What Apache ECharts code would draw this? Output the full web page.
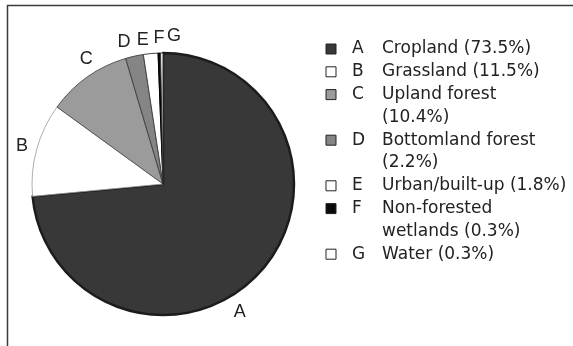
<!DOCTYPE html>
<html><head><meta charset="utf-8">
<script src="https://cdn.jsdelivr.net/npm/echarts@6/dist/echarts.min.js"></script>
<style>html,body{margin:0;padding:0;background:#fff}#c{width:573px;height:346px}</style>
</head><body><div id="c"></div>
<script>
var letters = ['A','B','C','D','E','F','G'];
var names = ['Cropland','Grassland','Upland forest','Bottomland forest','Urban/built-up','Non-forested wetlands','Water'];
var values = [73.5, 11.5, 10.4, 2.2, 1.8, 0.3, 0.3];
var legendLines = [
  ['Cropland (73.5%)'],
  ['Grassland (11.5%)'],
  ['Upland forest', '(10.4%)'],
  ['Bottomland forest', '(2.2%)'],
  ['Urban/built-up (1.8%)'],
  ['Non-forested', 'wetlands (0.3%)'],
  ['Water (0.3%)']
];
var colors = ['#383838','#ffffff','#9b9b9b','#858585','#ffffff','#0a0a0a','#ffffff'];
var borderColors = ['#1c1c1c','#999','#555','#444','#444','#000','#333'];
var borderWidths = [2.5, 0.8, 1, 1, 1, 1, 1];
// label placement (polar: degrees clockwise from top, distance from centre)
var labelAngles = [149, 285, 328.5, 344.6, 352, 358.4, 4.3];
var labelRadius = [149, 146, 147, 147, 145, 146, 148];

var chart = echarts.init(document.getElementById('c'), null, {renderer:'canvas'});
var font = 'Liberation Sans, Arial, Helvetica, sans-serif';
var lfont = 'DejaVu Sans, sans-serif';
var cx = 163, cy = 184;

var data = values.map(function(v,i){
  return {name: letters[i], value: v,
    itemStyle: {color: colors[i], borderColor: borderColors[i], borderWidth: borderWidths[i]}};
});

var g = [
  {type:'line', shape:{x1:7,y1:5.5,x2:573,y2:5.5}, style:{stroke:'#3a3a3a', lineWidth:1.5}, silent:true},
  {type:'line', shape:{x1:7.5,y1:5,x2:7.5,y2:346}, style:{stroke:'#3a3a3a', lineWidth:1.5}, silent:true}
];
var lineH = 22.8, y = 49;
for (var i=0;i<letters.length;i++){
  g.push({type:'rect', shape:{x:326,y:y-5,width:10,height:10},
    style:{fill:colors[i], stroke:'#222', lineWidth:1}});
  g.push({type:'text', x:352, y:y, style:{text:letters[i], font:'17px '+lfont, fill:'#222', verticalAlign:'middle'}});
  for (var j=0;j<legendLines[i].length;j++){
    g.push({type:'text', x:382, y:y, style:{text:legendLines[i][j], font:'17px '+lfont, fill:'#222', verticalAlign:'middle'}});
    y += lineH;
  }
}

chart.setOption({
  animation:false,
  backgroundColor:'#fff',
  graphic: g,
  series:[{
    type:'pie',
    center:[cx,cy],
    radius:[0,131],
    startAngle:90,
    clockwise:true,
    avoidLabelOverlap:false,
    label:{show:true, position:'outside', formatter:'{b}', color:'#222', fontSize:18, fontFamily:font},
    labelLine:{show:false},
    labelLayout:function(p){
      var i = p.dataIndex;
      var a = labelAngles[i]*Math.PI/180, r = labelRadius[i];
      return {x: cx + r*Math.sin(a), y: cy - r*Math.cos(a), align:'center', verticalAlign:'middle'};
    },
    data:data
  }]
});
</script></body></html>
